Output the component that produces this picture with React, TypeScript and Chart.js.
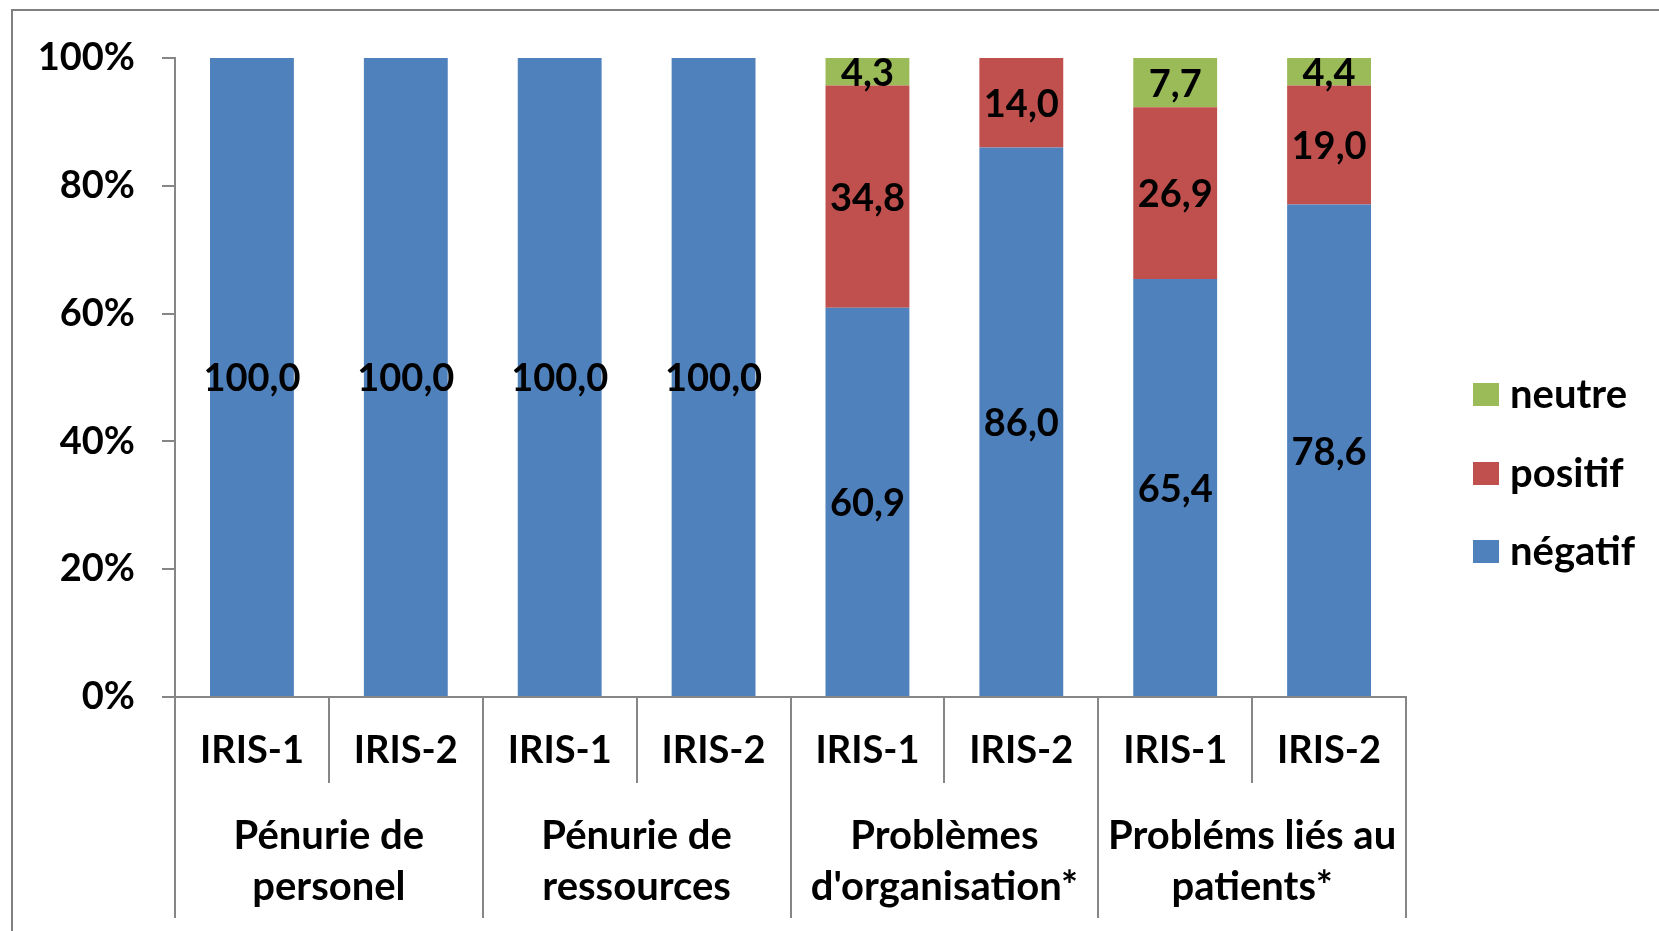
import React, { useEffect, useRef } from "react";
import { Chart, registerables } from "chart.js";

Chart.register(...registerables);

const categories = ["IRIS-1", "IRIS-2", "IRIS-1", "IRIS-2", "IRIS-1", "IRIS-2", "IRIS-1", "IRIS-2"];
const groups = [
  ["Pénurie de", "personel"],
  ["Pénurie de", "ressources"],
  ["Problèmes", "d'organisation*"],
  ["Probléms liés au", "patients*"],
];
const negatif = [100.0, 100.0, 100.0, 100.0, 60.9, 86.0, 65.4, 78.6];
const positif = [0, 0, 0, 0, 34.8, 14.0, 26.9, 19.0];
const neutre = [0, 0, 0, 0, 4.3, 0, 7.7, 4.4];
const yTicks = [0, 20, 40, 60, 80, 100];

const seriesNames = ["négatif", "positif", "neutre"];
const seriesColors = ["#4F81BD", "#C0504D", "#9BBB59"];

const FONT = "Lato";
const GRAY = "#868686";

const fmt = (v: number) => v.toFixed(1).replace(".", ",");

export default function App() {
  const ref = useRef<HTMLCanvasElement | null>(null);

  useEffect(() => {
    const canvas = ref.current;
    if (!canvas) return;
    const raws = [negatif, positif, neutre];
    const totals = categories.map((_, i) => negatif[i] + positif[i] + neutre[i]);
    const datasets = raws.map((arr, k) => ({
      label: seriesNames[k],
      data: arr.map((v, i) => (v / totals[i]) * 100),
      backgroundColor: seriesColors[k],
      borderWidth: 0,
      categoryPercentage: 1,
      barPercentage: 0.545,
    }));

    const overlay = {
      id: "overlay",
      beforeDraw(chart: any) {
        const ctx = chart.ctx;
        ctx.save();
        ctx.fillStyle = "#ffffff";
        ctx.fillRect(0, 0, chart.width, chart.height);
        ctx.fillStyle = "#808080";
        ctx.fillRect(11, 9, chart.width, 2);
        ctx.fillRect(11, 9, 2, chart.height);
        ctx.restore();
      },
      afterDatasetsDraw(chart: any) {
        const ctx = chart.ctx;
        ctx.save();
        ctx.font = `bold 38px ${FONT}`;
        ctx.fillStyle = "#000";
        ctx.textAlign = "center";
        ctx.textBaseline = "middle";
        raws.forEach((arr, k) => {
          const meta = chart.getDatasetMeta(k);
          meta.data.forEach((el: any, i: number) => {
            if (!(arr[i] > 0)) return;
            const p = el.getProps(["x", "y", "base"], true);
            ctx.fillText(fmt(arr[i]), p.x, (p.y + p.base) / 2 + 2);
          });
        });
        ctx.restore();
      },
      afterDraw(chart: any) {
        const ctx = chart.ctx;
        const area = chart.chartArea;
        const n = categories.length;
        const cw = (area.right - area.left) / n;
        ctx.save();
        ctx.strokeStyle = GRAY;
        ctx.lineWidth = 2;
        for (let i = 0; i <= n; i++) {
          const x = Math.round(area.left + i * cw);
          const outer = i % 2 === 0;
          ctx.beginPath();
          ctx.moveTo(x, area.bottom);
          ctx.lineTo(x, outer ? 918 : 783);
          ctx.stroke();
        }
        ctx.font = `bold 40px ${FONT}`;
        ctx.fillStyle = "#000";
        ctx.textAlign = "center";
        ctx.textBaseline = "middle";
        groups.forEach((lines, g) => {
          const cx = area.left + (2 * g + 1) * cw;
          ctx.fillText(lines[0], cx, 836);
          ctx.fillText(lines[1], cx, 887);
        });
        // legend
        const order = [2, 1, 0];
        const ys = [395, 474, 552];
        ctx.textAlign = "left";
        ctx.font = `bold 40px ${FONT}`;
        order.forEach((k, j) => {
          ctx.fillStyle = seriesColors[k];
          ctx.fillRect(1473, ys[j] - 12, 26, 23);
          ctx.fillStyle = "#000";
          ctx.fillText(seriesNames[k], 1510, ys[j]);
        });
        ctx.restore();
      },
    };

    const chart = new Chart(canvas, {
      type: "bar",
      data: { labels: categories, datasets },
      options: {
        responsive: false,
        animation: false,
        layout: { padding: { left: 0, top: 58, right: 253, bottom: 0 } },
        plugins: { legend: { display: false }, tooltip: { enabled: false } },
        scales: {
          x: {
            stacked: true,
            grid: { drawOnChartArea: false, drawTicks: false },
            border: { color: GRAY, width: 2 },
            ticks: {
              color: "#000",
              font: { family: FONT, size: 38, weight: "bold" },
              padding: 31,
              maxRotation: 0,
              autoSkip: false,
            },
            afterFit: (s: any) => {
              s.height = 931 - 697;
            },
          },
          y: {
            stacked: true,
            min: 0,
            max: 100,
            afterBuildTicks: (s: any) => {
              s.ticks = yTicks.map((v) => ({ value: v }));
            },
            ticks: {
              color: "#000",
              font: { family: FONT, size: 38, weight: "bold" },
              padding: 27,
              callback: (v: any) => `${v}%`,
            },
            grid: { drawOnChartArea: false, tickLength: 13, color: GRAY, lineWidth: 2 },
            border: { color: GRAY, width: 2 },
            afterFit: (s: any) => {
              s.width = 175;
            },
          },
        },
      },
      plugins: [overlay],
    } as any);
    return () => chart.destroy();
  }, []);

  return (
    <div style={{ position: "fixed", left: 0, top: 0, width: 1659, height: 931 }}>
      <canvas ref={ref} width={1659} height={931} style={{ width: 1659, height: 931 }} />
    </div>
  );
}
